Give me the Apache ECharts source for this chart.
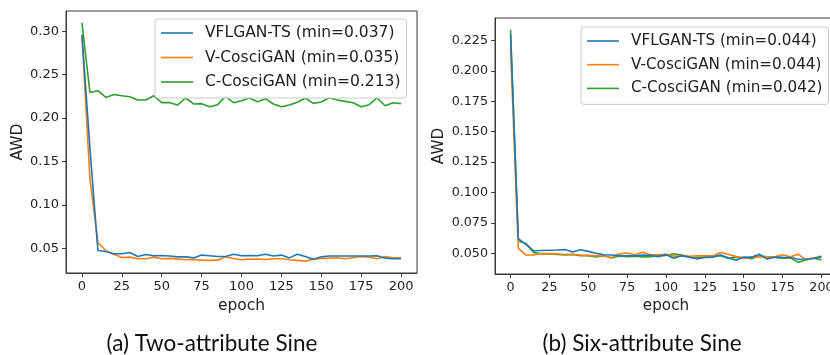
<!DOCTYPE html>
<html><head><meta charset="utf-8">
<script src="https://cdn.jsdelivr.net/npm/echarts@6/dist/echarts.min.js"></script>
<style>html,body{margin:0;padding:0;background:#fff}#c{width:830px;height:355px}</style>
</head><body><div id="c"></div>
<script>
const epochs = [0,5,10,15,20,25,30,35,40,45,50,55,60,65,70,75,80,85,90,95,100,105,110,115,120,125,130,135,140,145,150,155,160,165,170,175,180,185,190,195,200];
const xTicks = [0,25,50,75,100,125,150,175,200];
const yTicksA = [0.05,0.10,0.15,0.20,0.25,0.30];
const yTicksB = [0.050,0.075,0.100,0.125,0.150,0.175,0.200,0.225];
const namesA = ['VFLGAN-TS (min=0.037)','V-CosciGAN (min=0.035)','C-CosciGAN (min=0.213)'];
const namesB = ['VFLGAN-TS (min=0.044)','V-CosciGAN (min=0.044)','C-CosciGAN (min=0.042)'];
const captions = ['(a) Two-attribute Sine','(b) Six-attribute Sine'];
const colors = ['#1f77b4','#ff7f0e','#2ca02c'];

const blueA = [0.296,0.165,0.0473,0.0462,0.0435,0.0435,0.045,0.0404,0.0427,0.0412,0.0416,0.041,0.040,0.040,0.0388,0.042,0.0412,0.0404,0.0404,0.0431,0.0412,0.0416,0.0412,0.0431,0.041,0.042,0.0388,0.0431,0.0404,0.0372,0.040,0.041,0.041,0.041,0.041,0.041,0.041,0.0412,0.0385,0.0378,0.0378];
const orangeA = [0.295,0.13,0.0565,0.047,0.0431,0.0393,0.0397,0.0378,0.0378,0.0397,0.0378,0.0382,0.0374,0.0366,0.0366,0.0362,0.0359,0.0362,0.040,0.0382,0.0366,0.0374,0.0374,0.037,0.0378,0.0378,0.0366,0.0359,0.0351,0.0374,0.0382,0.0385,0.0389,0.0378,0.0389,0.0404,0.0397,0.0378,0.0404,0.0389,0.0389];
const greenA = [0.3095,0.2294,0.2314,0.2237,0.227,0.2256,0.2245,0.2207,0.2207,0.2256,0.2176,0.2176,0.215,0.223,0.2161,0.2165,0.213,0.2153,0.2248,0.2176,0.2199,0.223,0.2187,0.2222,0.2161,0.213,0.215,0.218,0.223,0.2168,0.2184,0.2233,0.2207,0.2191,0.2176,0.213,0.2153,0.223,0.2141,0.2176,0.2165];

const blueB = [0.230,0.062,0.057,0.052,0.0522,0.0524,0.0526,0.053,0.051,0.0528,0.0515,0.050,0.0488,0.0485,0.0478,0.0478,0.0478,0.0485,0.0483,0.0472,0.049,0.0458,0.048,0.0468,0.0453,0.0465,0.0468,0.0485,0.0462,0.0442,0.0468,0.0466,0.0492,0.0452,0.0468,0.0466,0.0465,0.045,0.0452,0.0458,0.047];
const orangeB = [0.219,0.054,0.0485,0.0485,0.0497,0.0497,0.0495,0.049,0.0492,0.0485,0.0482,0.0478,0.0482,0.0462,0.0495,0.0502,0.0488,0.0508,0.0488,0.0487,0.0492,0.0476,0.0478,0.0475,0.0478,0.0478,0.0478,0.0506,0.0492,0.0472,0.0458,0.0468,0.0472,0.047,0.047,0.0488,0.047,0.0492,0.0445,0.046,0.0478];
const greenB = [0.234,0.060,0.058,0.0505,0.0495,0.0495,0.049,0.0485,0.049,0.048,0.048,0.047,0.048,0.046,0.0478,0.0472,0.0475,0.047,0.0472,0.0478,0.0482,0.0495,0.0485,0.047,0.0465,0.047,0.0472,0.048,0.0458,0.0468,0.0465,0.0455,0.0478,0.047,0.0468,0.046,0.0462,0.0425,0.0445,0.0458,0.0445];

const FONT = 'DejaVu Sans';
const spine = '#3a3a3a';
const pairs = vals => epochs.map((e,i)=>[e, vals[i]]);

function xAxis(gi, fs) {
  return {type:'value', gridIndex:gi, min:-10, max:210,
    axisLine:{show:true,onZero:false,lineStyle:{color:spine,width:1}},
    axisTick:{show:true,length:4,customValues:xTicks,lineStyle:{color:spine}},
    axisLabel:{customValues:xTicks,fontFamily:FONT,fontSize:fs,color:'#222',margin:7},
    splitLine:{show:false},
    name:'epoch', nameLocation:'middle', nameGap:23,
    nameTextStyle:{fontFamily:FONT,fontSize:fs+2.5,color:'#222'}};
}
function yAxis(gi, mn, mx, ticks, fs, dec, gap) {
  return {type:'value', gridIndex:gi, min:mn, max:mx,
    axisLine:{show:true,onZero:false,lineStyle:{color:spine,width:1}},
    axisTick:{show:true,length:4,customValues:ticks,lineStyle:{color:spine}},
    axisLabel:{customValues:ticks,fontFamily:FONT,fontSize:fs,color:'#222',margin:7,
      formatter:v=>v.toFixed(dec)},
    splitLine:{show:false},
    name:'AWD', nameLocation:'middle', nameGap:gap, nameRotate:90,
    nameTextStyle:{fontFamily:FONT,fontSize:fs+2.5,color:'#222'}};
}
function legend(names, left, top, fs, gap) {
  return {data:names, orient:'vertical', left:left, top:top,
    icon:'rect', itemWidth:32, itemHeight:1.6, itemGap:gap,
    padding:[5,6,7,6],
    backgroundColor:'rgba(255,255,255,0.8)', borderColor:'#cccccc', borderWidth:1, borderRadius:3,
    textStyle:{fontFamily:FONT,fontSize:fs,color:'#222',lineHeight:18,padding:[0,0,0,7]}};
}
function series(name, vals, ci, xi, yi) {
  return {type:'line', name:name, data:pairs(vals), xAxisIndex:xi, yAxisIndex:yi,
    symbol:'none', lineStyle:{color:colors[ci],width:1.6}, itemStyle:{color:colors[ci]},
    animation:false, z:3-ci};
}

const chart = echarts.init(document.getElementById('c'), null, {renderer:'canvas'});
chart.setOption({
  backgroundColor:'#ffffff',
  animation:false,
  grid:[
    {left:66, top:11, right:413, bottom:82, show:true, borderColor:spine, borderWidth:1, backgroundColor:'transparent', outerBoundsMode:'none', containLabel:false},
    {left:495, top:18, right:-7, bottom:81, show:true, borderColor:spine, borderWidth:1, backgroundColor:'transparent', outerBoundsMode:'none', containLabel:false}
  ],
  xAxis:[xAxis(0,13), xAxis(1,12.7)],
  yAxis:[yAxis(0,0.0214,0.3232,yTicksA,13,2,40), yAxis(1,0.0329,0.2436,yTicksB,12.7,3,48)],
  legend:[legend(namesA,155,19,15.5,6.5), legend(namesB,581,27,15.2,5.7)],
  series:[
    series(namesA[0], blueA, 0, 0, 0),
    series(namesA[1], orangeA, 1, 0, 0),
    series(namesA[2], greenA, 2, 0, 0),
    series(namesB[0], blueB, 0, 1, 1),
    series(namesB[1], orangeB, 1, 1, 1),
    series(namesB[2], greenB, 2, 1, 1)
  ],
  graphic:[
    {type:'text', x:212, y:344, style:{text:captions[0], font:'22.5px Lato', fill:'#111', textAlign:'center', textVerticalAlign:'middle'}},
    {type:'text', x:642, y:344, style:{text:captions[1], font:'22.5px Lato', fill:'#111', textAlign:'center', textVerticalAlign:'middle'}}
  ]
});
</script></body></html>
